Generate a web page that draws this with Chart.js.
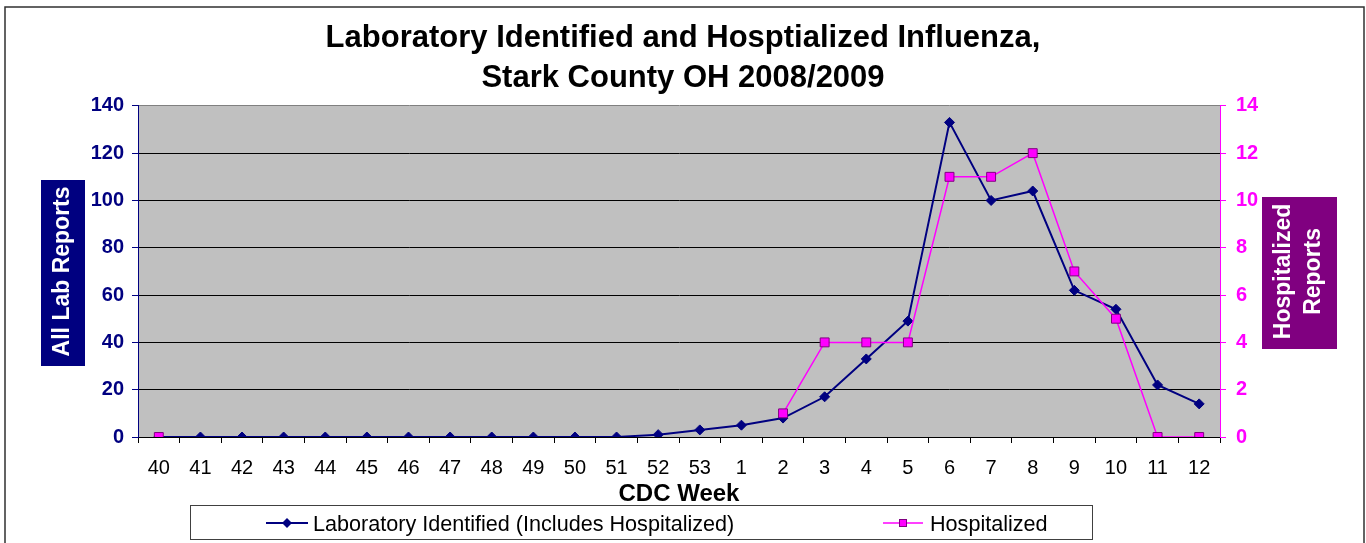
<!DOCTYPE html>
<html>
<head>
<meta charset="utf-8">
<style>
  html, body { margin: 0; padding: 0; background: #ffffff; }
  #wrap { width: 1366px; height: 543px; }
  canvas { display: block; }
</style>
<script src="https://cdn.jsdelivr.net/npm/chart.js@4.4.1/dist/chart.umd.min.js"></script>
</head>
<body>
<div id="wrap"><canvas id="c" width="1366" height="543"></canvas></div>
<script>
const titleLines = ['Laboratory Identified and Hosptialized Influenza,', 'Stark County OH 2008/2009'];
const weeks = ['40','41','42','43','44','45','46','47','48','49','50','51','52','53','1','2','3','4','5','6','7','8','9','10','11','12'];
const labReports = [0,0,0,0,0,0,0,0,0,0,0,0,1,3,5,8,17,33,49,133,100,104,62,54,22,14];
const hospitalized = [0,null,null,null,null,null,null,null,null,null,null,null,null,null,null,1,4,4,4,11,11,12,7,5,0,0];
const labTicks = [0,20,40,60,80,100,120,140];
const hospTicks = [0,2,4,6,8,10,12,14];
const labSeriesName = 'Laboratory Identified (Includes Hospitalized)';
const hospSeriesName = 'Hospitalized';
const leftAxisTitle = 'All Lab Reports';
const rightAxisTitle = ['Hospitalized', 'Reports'];
const xAxisTitle = 'CDC Week';

const FONT = "'Liberation Sans', Arial, Helvetica, sans-serif";
Chart.defaults.font.family = FONT;

const NAVY = '#000080';
const MAGENTA = '#FF00FF';
const PURPLE = '#800080';

const decorPlugin = {
  id: 'decor',
  beforeDraw(chart) {
    const ctx = chart.ctx;
    const a = chart.chartArea;
    ctx.save();
    ctx.fillStyle = '#ffffff';
    ctx.fillRect(0, 0, chart.width, chart.height);
    ctx.fillStyle = '#C0C0C0';
    ctx.fillRect(a.left, a.top, a.right - a.left, a.bottom - a.top);
    ctx.strokeStyle = '#303030';
    ctx.lineWidth = 1.5;
    ctx.strokeRect(5, 7, 1359, 560);
    ctx.restore();
  },
  afterDraw(chart) {
    const ctx = chart.ctx;
    const a = chart.chartArea;
    const cy = (a.top + a.bottom) / 2;
    ctx.save();
    ctx.fillStyle = NAVY;
    ctx.fillRect(41, 180, 44, 186);
    ctx.fillStyle = '#ffffff';
    ctx.font = 'bold 23px ' + FONT;
    ctx.textAlign = 'center';
    ctx.textBaseline = 'alphabetic';
    ctx.save();
    ctx.translate(68.5, cy);
    ctx.rotate(-Math.PI / 2);
    ctx.fillText(leftAxisTitle, 0, 0);
    ctx.restore();
    ctx.fillStyle = PURPLE;
    ctx.fillRect(1262, 197, 75, 152);
    ctx.fillStyle = '#ffffff';
    ctx.save();
    ctx.translate(1290, cy);
    ctx.rotate(-Math.PI / 2);
    ctx.fillText(rightAxisTitle[0], 0, 0);
    ctx.fillText(rightAxisTitle[1], 0, 30);
    ctx.restore();

    // legend
    ctx.strokeStyle = '#404040';
    ctx.lineWidth = 1;
    ctx.strokeRect(190.5, 505.5, 902, 34);
    const ly = 523;
    ctx.strokeStyle = NAVY;
    ctx.lineWidth = 2;
    ctx.beginPath(); ctx.moveTo(266, ly); ctx.lineTo(308, ly); ctx.stroke();
    ctx.fillStyle = NAVY;
    ctx.beginPath();
    ctx.moveTo(287, ly - 5); ctx.lineTo(292, ly); ctx.lineTo(287, ly + 5); ctx.lineTo(282, ly);
    ctx.closePath(); ctx.fill();
    ctx.strokeStyle = MAGENTA;
    ctx.lineWidth = 1.5;
    ctx.beginPath(); ctx.moveTo(883, ly); ctx.lineTo(923, ly); ctx.stroke();
    ctx.fillStyle = MAGENTA;
    ctx.fillRect(899, ly - 4, 8, 8);
    ctx.strokeStyle = PURPLE;
    ctx.lineWidth = 1;
    ctx.strokeRect(899.5, ly - 3.5, 7, 7);
    ctx.fillStyle = '#000000';
    ctx.font = '21.6px ' + FONT;
    ctx.textAlign = 'left';
    ctx.textBaseline = 'alphabetic';
    ctx.fillText(labSeriesName, 313, 531);
    ctx.fillText(hospSeriesName, 930, 531);
    ctx.restore();
  }
};

new Chart(document.getElementById('c'), {
  type: 'line',
  data: {
    labels: weeks,
    datasets: [
      {
        label: labSeriesName,
        data: labReports,
        yAxisID: 'y',
        borderColor: NAVY,
        backgroundColor: NAVY,
        borderWidth: 2,
        pointStyle: 'rectRot',
        pointRadius: 5,
        pointBorderWidth: 1,
        pointBackgroundColor: NAVY,
        pointBorderColor: NAVY,
        tension: 0,
        order: 1
      },
      {
        label: hospSeriesName,
        data: hospitalized,
        yAxisID: 'y1',
        borderColor: MAGENTA,
        backgroundColor: MAGENTA,
        borderWidth: 1.5,
        pointStyle: 'rect',
        pointRadius: 6.3,
        pointBorderWidth: 1,
        pointBackgroundColor: MAGENTA,
        pointBorderColor: PURPLE,
        spanGaps: false,
        tension: 0,
        order: 0
      }
    ]
  },
  options: {
    responsive: false,
    animation: false,
    devicePixelRatio: 1,
    layout: { padding: { left: 0, right: 0, top: 0, bottom: 34 } },
    plugins: {
      legend: { display: false },
      tooltip: { enabled: false },
      title: {
        display: true,
        text: titleLines,
        color: '#000000',
        font: { size: 31, weight: 'bold', lineHeight: 1.32 },
        padding: { top: 17.5, bottom: 6.5 }
      }
    },
    scales: {
      x: {
        type: 'category',
        offset: true,
        afterFit(scale) { scale.height = 72; },
        grid: { offset: true, drawOnChartArea: false, drawTicks: true, tickLength: 6, color: '#000000' },
        border: { display: true, color: '#000000', width: 1 },
        ticks: { color: '#000000', font: { size: 20 }, padding: 13, maxRotation: 0, autoSkip: false },
        title: { display: true, text: xAxisTitle, color: '#000000', font: { size: 24, weight: 'bold' }, padding: 0 }
      },
      y: {
        position: 'left',
        min: 0, max: 140,
        afterFit(scale) { scale.width = 138; },
        afterBuildTicks(scale) { scale.ticks = labTicks.map(v => ({ value: v })); },
        grid: {
          color: (c) => (c.tick && c.tick.value === 140 ? '#808080' : '#000000'),
          lineWidth: 1,
          tickLength: 6,
          tickColor: NAVY
        },
        border: { display: true, color: NAVY, width: 1 },
        ticks: { color: NAVY, font: { size: 20, weight: 'bold' }, padding: 8 }
      },
      y1: {
        position: 'right',
        min: 0, max: 14,
        afterFit(scale) { scale.width = 146; },
        afterBuildTicks(scale) { scale.ticks = hospTicks.map(v => ({ value: v })); },
        grid: { drawOnChartArea: false, tickLength: 6, tickColor: MAGENTA, color: MAGENTA },
        border: { display: true, color: MAGENTA, width: 1 },
        ticks: { color: MAGENTA, font: { size: 20, weight: 'bold' }, padding: 10 }
      }
    }
  },
  plugins: [decorPlugin]
});
</script>
</body>
</html>
